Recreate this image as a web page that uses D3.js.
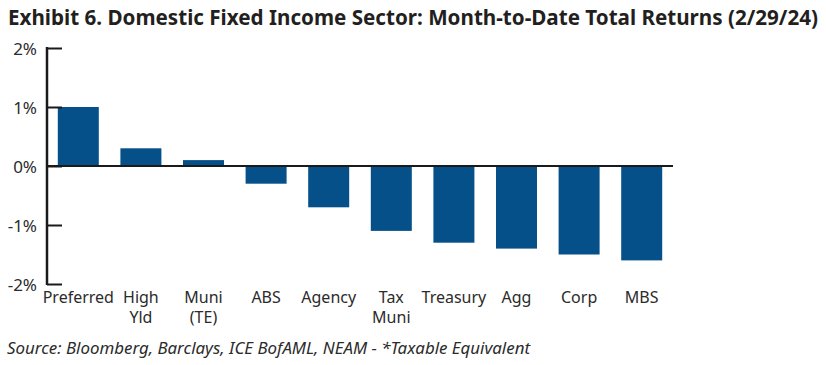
<!DOCTYPE html>
<html>
<head>
<meta charset="utf-8">
<script src="https://cdn.jsdelivr.net/npm/d3@7"></script>
<style>
  body { margin: 0; background: #fff; }
  text { font-family: "Noto Sans", sans-serif; fill: #2b2b2b; }
</style>
</head>
<body>
<script>
// month-to-date total returns, percent
const sectors = ["Preferred", "High Yld", "Muni (TE)", "ABS", "Agency", "Tax Muni", "Treasury", "Agg", "Corp", "MBS"];
const labels = [["Preferred"], ["High", "Yld"], ["Muni", "(TE)"], ["ABS"], ["Agency"], ["Tax", "Muni"], ["Treasury"], ["Agg"], ["Corp"], ["MBS"]];
const returns = [1.0, 0.3, 0.1, -0.3, -0.7, -1.1, -1.3, -1.4, -1.5, -1.6];
const yTicks = [-2, -1, 0, 1, 2];

const width = 826, height = 365;

const svg = d3.select("body").append("svg")
    .attr("width", width)
    .attr("height", height);

const x = d3.scaleBand()
    .domain(sectors)
    .range([47, 673])
    .paddingInner(0.345)
    .paddingOuter(0.1725);

const y = d3.scaleLinear()
    .domain([-2, 2])
    .range([284, 48]);

// title, stretched to the width it has in the original
svg.append("text")
    .attr("x", 8)
    .attr("y", 25)
    .attr("textLength", 810)
    .attr("lengthAdjust", "spacingAndGlyphs")
    .style("font-size", "20.5px")
    .style("font-weight", 700)
    .style("fill", "#231f20")
    .text("Exhibit 6. Domestic Fixed Income Sector: Month-to-Date Total Returns (2/29/24)");

// bars
svg.selectAll(".bar")
    .data(returns)
  .enter().append("rect")
    .attr("class", "bar")
    .attr("x", function(d, i) { return x(sectors[i]); })
    .attr("width", x.bandwidth())
    .attr("y", function(d) { return y(Math.max(0, d)); })
    .attr("height", function(d) { return Math.abs(y(d) - y(0)); })
    .style("fill", "#06508a");

// y axis, ticks point inward
const yAxis = d3.axisRight(y)
    .tickValues(yTicks)
    .tickSize(15)
    .tickFormat(function(d) { return d + "%"; });

const ya = svg.append("g")
    .attr("transform", "translate(47,0)")
    .call(yAxis);
ya.select(".domain").remove();
ya.selectAll(".tick line").attr("stroke", "#1a1a1a").attr("stroke-width", 2);
ya.selectAll(".tick text")
    .attr("x", -10)
    .attr("dy", "0.4em")
    .attr("text-anchor", "end")
    .style("font-size", "17px")
    .style("font-family", "Noto Sans, sans-serif")
    .style("fill", "#2b2b2b");

svg.append("line")
    .attr("x1", 47).attr("x2", 47)
    .attr("y1", y(2) - 1).attr("y2", y(-2) + 1)
    .attr("stroke", "#1a1a1a")
    .attr("stroke-width", 2.5);

// zero line
svg.append("line")
    .attr("x1", 47).attr("x2", 673)
    .attr("y1", y(0)).attr("y2", y(0))
    .attr("stroke", "#1a1a1a")
    .attr("stroke-width", 2);

// category labels
const cat = svg.selectAll(".cat")
    .data(labels)
  .enter().append("text")
    .attr("class", "cat")
    .attr("text-anchor", "middle")
    .attr("transform", function(d, i) { return "translate(" + (x(sectors[i]) + x.bandwidth() / 2) + ",303)"; })
    .style("font-size", "16px");

cat.selectAll("tspan")
    .data(function(d) { return d; })
  .enter().append("tspan")
    .attr("x", 0)
    .attr("y", function(d, i) { return i * 20; })
    .text(function(d) { return d; });

// source
svg.append("text")
    .attr("x", 7)
    .attr("y", 354)
    .attr("textLength", 523)
    .attr("lengthAdjust", "spacingAndGlyphs")
    .style("font-size", "16px")
    .style("font-style", "italic")
    .text("Source: Bloomberg, Barclays, ICE BofAML, NEAM - *Taxable Equivalent");
</script>
</body>
</html>
